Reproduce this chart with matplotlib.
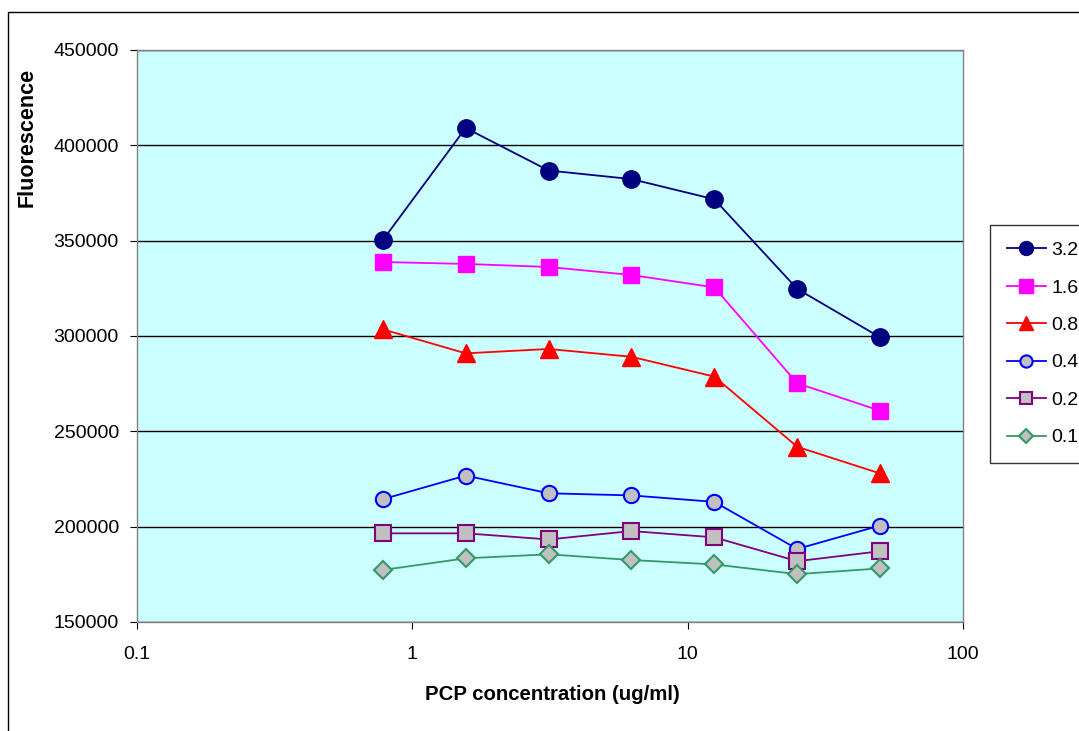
import matplotlib.pyplot as plt
from matplotlib.patches import Rectangle

plt.rcParams['font.family'] = ['Liberation Sans', 'DejaVu Sans']

# PCP concentration (ug/ml), two-fold dilution series
conc = [0.78125, 1.5625, 3.125, 6.25, 12.5, 25, 50]

# fluorescence readings per series
f_32 = [350300, 409100, 386800, 382300, 371700, 324700, 299300]
f_16 = [338800, 337800, 336200, 332000, 325500, 275200, 260800]
f_08 = [303500, 290900, 293200, 289100, 278700, 241900, 227900]
f_04 = [214400, 226800, 217500, 216400, 213000, 188300, 200600]
f_02 = [196500, 196500, 193300, 197700, 194400, 181900, 187100]
f_01 = [177300, 183400, 185500, 182500, 180200, 175100, 178100]

labels = ['3.2', '1.6', '0.8', '0.4', '0.2', '0.1']

fig = plt.figure(figsize=(10.79, 7.31), dpi=100)
ax = fig.add_axes([137 / 1079, 1 - 622 / 731, (963 - 137) / 1079, (622 - 50) / 731])
ax.set_facecolor('#CCFFFF')

# outer chart border
fig.patches.append(Rectangle((8 / 1079, -0.05), 1.2, 1 - 12 / 731 + 0.05,
                             transform=fig.transFigure, fill=False,
                             edgecolor='black', linewidth=1.0, zorder=0))

ax.plot(conc, f_32, color='#000080', marker='o', markersize=12.5,
        markerfacecolor='#000080', markeredgecolor='#000080', lw=1.3, label=labels[0])
ax.plot(conc, f_16, color='#FF00FF', marker='s', markersize=12,
        markerfacecolor='#FF00FF', markeredgecolor='#FF00FF', lw=1.3, label=labels[1])
ax.plot(conc, f_08, color='#FF0000', marker='^', markersize=13,
        markerfacecolor='#FF0000', markeredgecolor='#FF0000', lw=1.3, label=labels[2])
ax.plot(conc, f_04, color='#0000FF', marker='o', markersize=11,
        markerfacecolor='#C0C0C0', markeredgecolor='#0000FF', markeredgewidth=1.5,
        lw=1.3, label=labels[3])
ax.plot(conc, f_02, color='#800080', marker='s', markersize=11,
        markerfacecolor='#C0C0C0', markeredgecolor='#800080', markeredgewidth=1.5,
        lw=1.3, label=labels[4])
ax.plot(conc, f_01, color='#339966', marker='D', markersize=9,
        markerfacecolor='#C0C0C0', markeredgecolor='#339966', markeredgewidth=1.5,
        lw=1.3, label=labels[5])

ax.set_xscale('log')
ax.set_xlim(0.1, 100)
ax.set_ylim(150000, 450000)
ax.set_xticks([0.1, 1, 10, 100])
ax.set_xticklabels(['0.1', '1', '10', '100'])
ax.minorticks_off()
ax.set_yticks(range(150000, 450001, 50000))
ax.set_yticklabels([str(v) for v in range(150000, 450001, 50000)])
ax.tick_params(axis='both', labelsize=14, direction='out', length=5, width=0.8)
ax.tick_params(axis='y', pad=8)
ax.tick_params(axis='x', pad=12)

ax.yaxis.grid(True, color='black', linewidth=1.0)
ax.set_axisbelow(True)
for s in ax.spines.values():
    s.set_color('#808080')
    s.set_linewidth(1.0)

ax.set_xlabel('PCP concentration (ug/ml)', fontsize=14.7, fontweight='bold')
ax.xaxis.set_label_coords((552 - 137) / 826, -(695 - 622) / 572)
ax.xaxis.label.set_va('center')
ax.set_ylabel('Fluorescence', fontsize=15.5, fontweight='bold')
ax.yaxis.set_label_coords(-(137 - 27) / 826, (622 - 137) / 572)
ax.yaxis.label.set_va('center')

leg = fig.legend(loc='upper left', bbox_to_anchor=(990 / 1079, 1 - 225 / 731),
                 bbox_transform=fig.transFigure, fontsize=14, frameon=True,
                 fancybox=False, edgecolor='black', handlelength=2.05,
                 handletextpad=0.25, labelspacing=1.02, borderpad=0.85,
                 borderaxespad=0.0)
leg.get_frame().set_linewidth(1.0)
for h in leg.legend_handles:
    h.set_markersize(h.get_markersize() * 0.8)

fig.savefig('out.png', dpi=100)
